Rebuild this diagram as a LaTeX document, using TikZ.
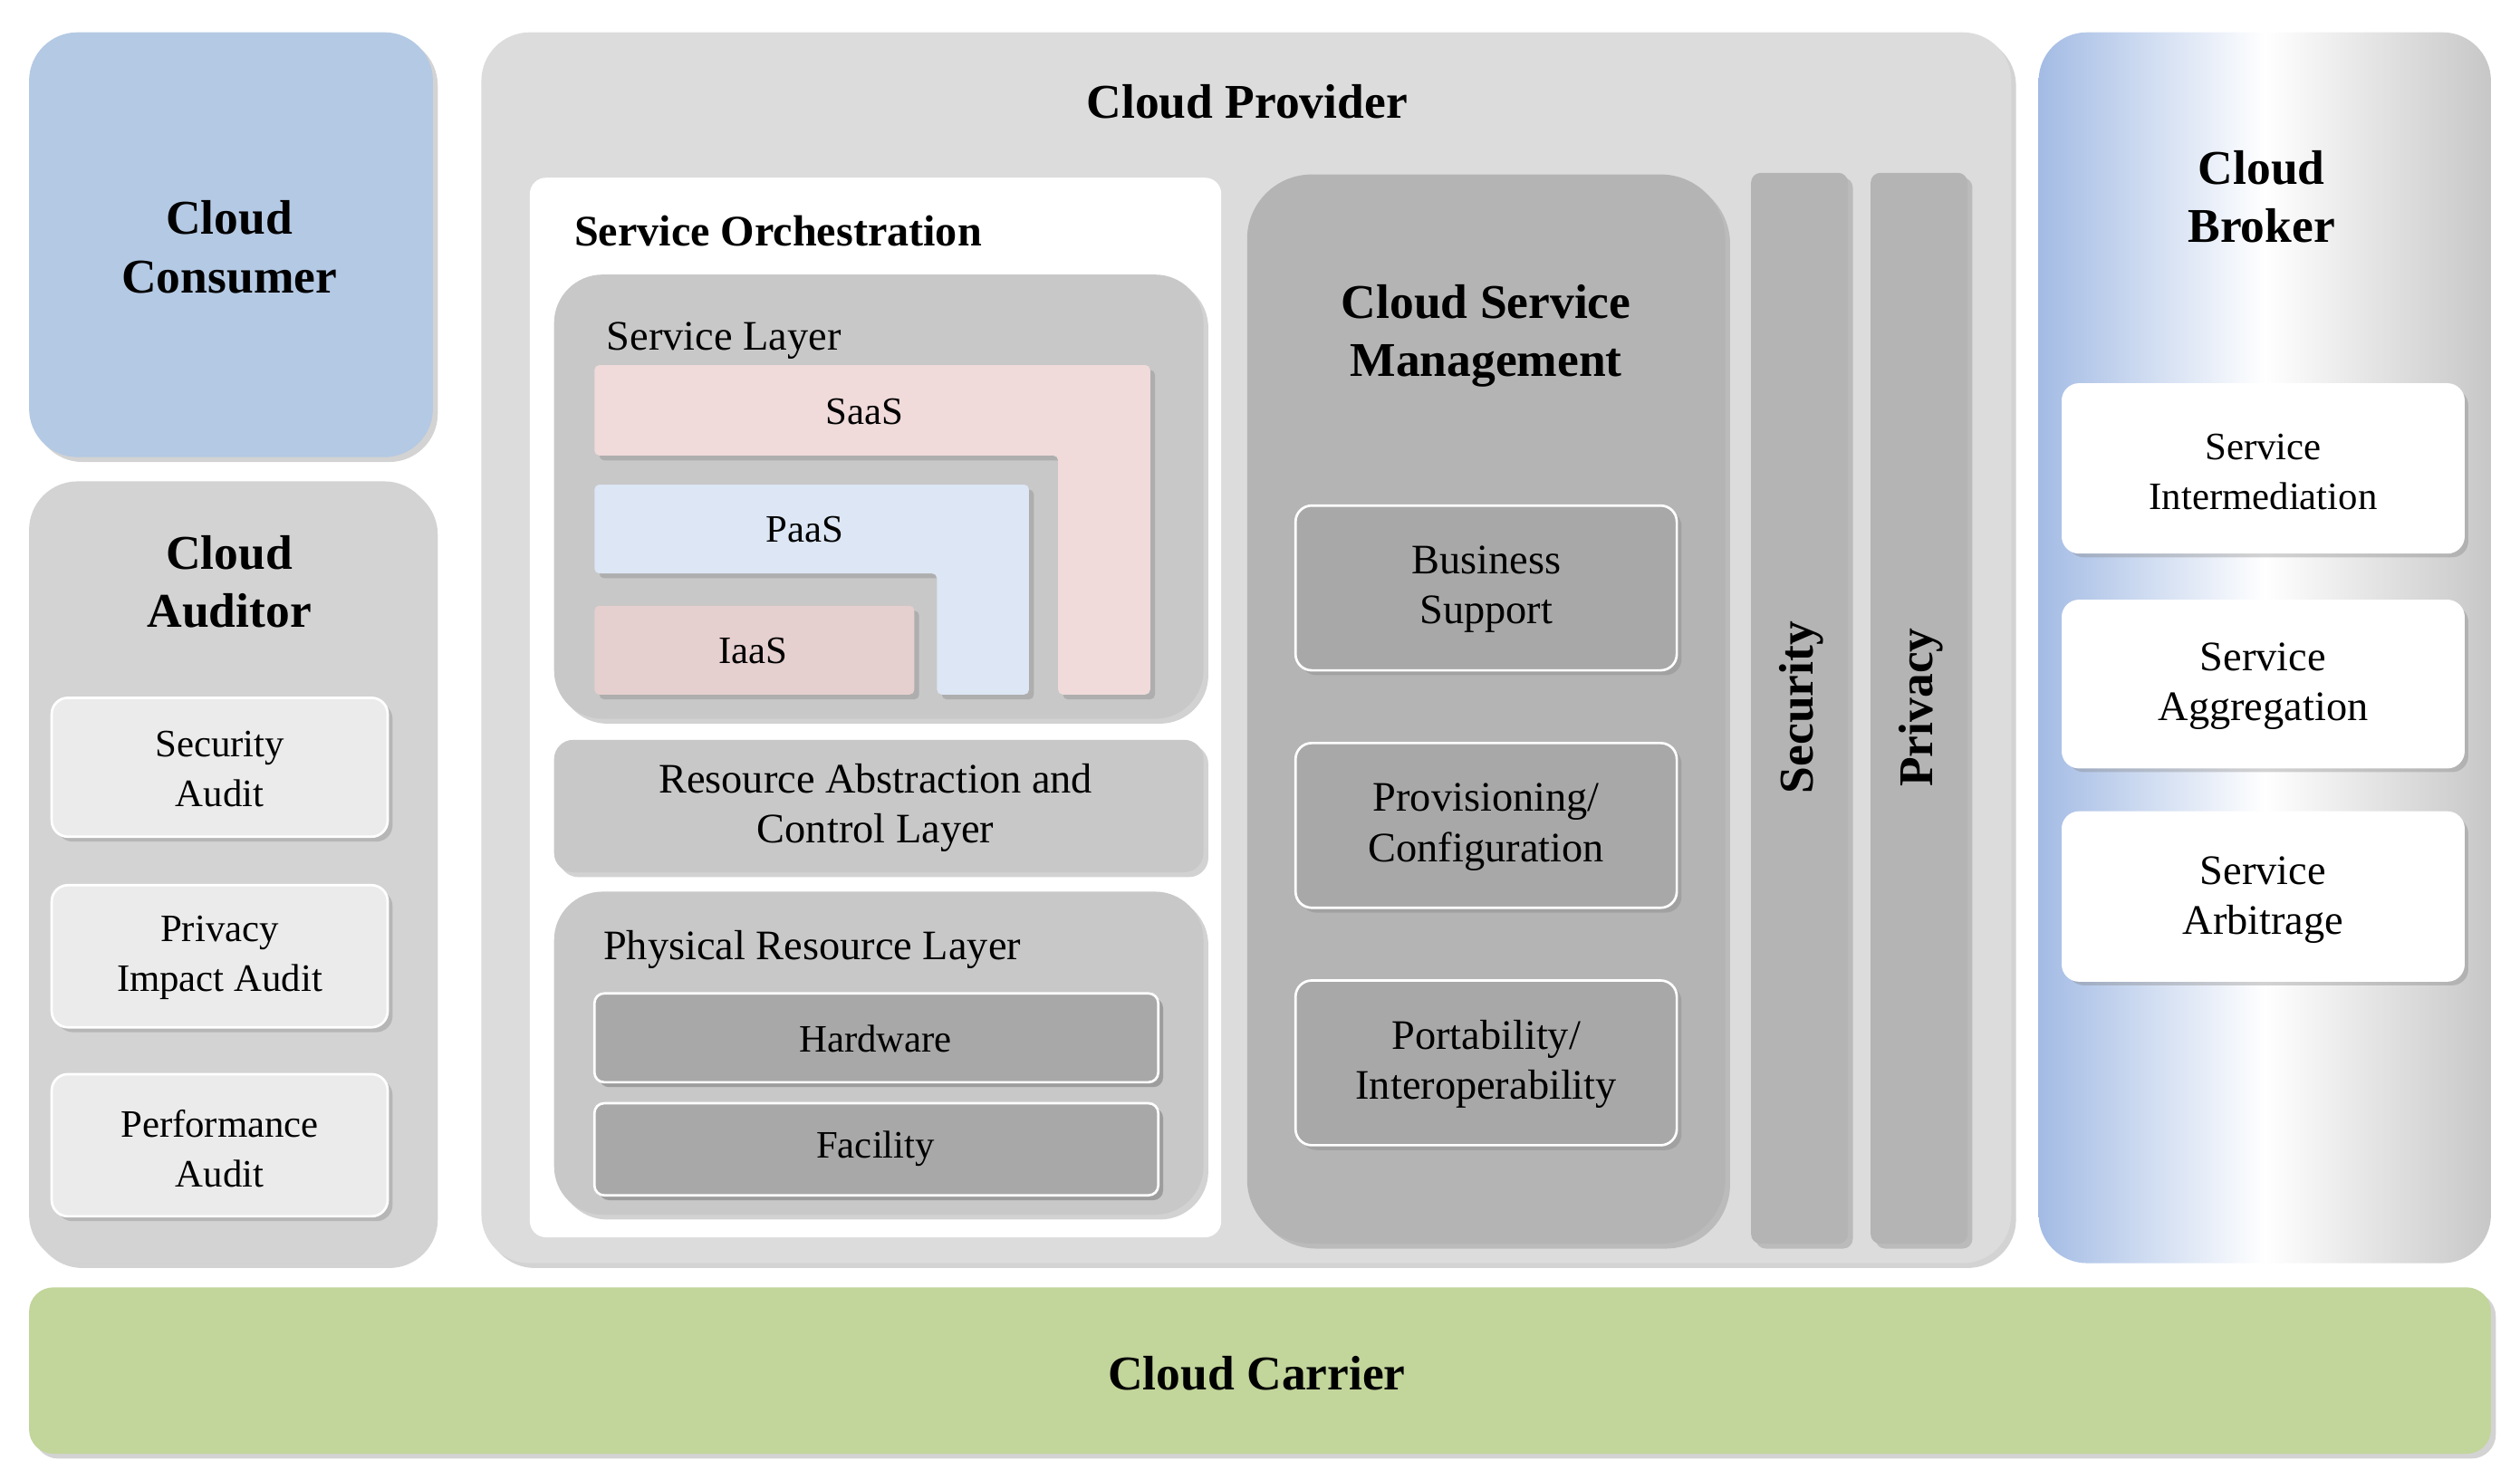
\documentclass[tikz,border=0pt]{standalone}
\usepackage{fontspec}
\setmainfont{Liberation Serif}
\usetikzlibrary{shadows}
\definecolor{cblue}{HTML}{B4C9E3}
\definecolor{bblue}{HTML}{A3BBE4}
\definecolor{cgray}{HTML}{D3D3D3}
\definecolor{pgray}{HTML}{DCDCDC}
\definecolor{lgray}{HTML}{C8C8C8}
\definecolor{mgray}{HTML}{B4B4B4}
\definecolor{dgray}{HTML}{A8A8A8}
\definecolor{saas}{HTML}{F0DADA}
\definecolor{paas}{HTML}{DCE6F4}
\definecolor{iaas}{HTML}{E6CFCF}
\definecolor{carrier}{HTML}{C2D59B}
\begin{document}
\begin{tikzpicture}[x=1pt,y=-1pt,
  box/.style={rounded corners=#1,drop shadow={shadow xshift=3pt,shadow yshift=-3pt,opacity=.35}},
  big/.style={font=\fontsize{30}{36}\selectfont\bfseries,align=center},
  mid/.style={font=\fontsize{26}{31}\selectfont,align=center},
  sml/.style={font=\fontsize{24}{31}\selectfont,align=center},
  sub/.style={box=10,draw=white,line width=1.5pt}]
\useasboundingbox (0,0) rectangle (1560,916);
% consumer
\draw[box=30,fill=cblue,draw=none] (18,20) rectangle (268,283);
\node[big] (cons) at (142,153) {Cloud\\Consumer};
% auditor
\draw[box=30,fill=cgray,draw=none] (18,298) rectangle (268,782);
\node[big] (aud) at (142,360) {Cloud\\Auditor};
\draw[sub,fill=black!8] (32,432) rectangle (240,518);
\node[sml] (sa) at (136,476) {Security\\Audit};
\draw[sub,fill=black!8] (32,548) rectangle (240,636);
\node[sml] (pa) at (136,593) {Privacy\\Impact Audit};
\draw[sub,fill=black!8] (32,665) rectangle (240,753);
\node[sml] (pfa) at (136,711) {Performance\\Audit};
% provider
\draw[box=30,fill=pgray,draw=none] (298,20) rectangle (1245,782);
\node[big] (prov) at (772,63) {Cloud Provider};
\draw[rounded corners=10,fill=white,draw=none] (328,110) rectangle (756,766);
\node[font=\fontsize{27}{32}\selectfont\bfseries,anchor=west] (so) at (352,143) {Service Orchestration};
% service layer
\draw[box=30,fill=lgray,draw=none] (343,170) rectangle (745,445);
\node[mid,anchor=west] (sl) at (372,211) {Service Layer};
\draw[box=3,fill=saas,draw=none] (368,226) -- (712,226) -- (712,430) -- (655,430) -- (655,282) -- (368,282) -- cycle;
\node[sml] (saasn) at (535,255) {SaaS};
\draw[box=3,fill=paas,draw=none] (368,300) -- (637,300) -- (637,430) -- (580,430) -- (580,355) -- (368,355) -- cycle;
\node[sml] (paasn) at (498,328) {PaaS};
\draw[box=3,fill=iaas,draw=none] (368,375) rectangle (566,430);
\node[sml] (iaasn) at (466,403) {IaaS};
% resource abstraction
\draw[box=12,fill=lgray,draw=none] (343,458) rectangle (745,540);
\node[mid] (ra) at (542,500) {Resource Abstraction and\\Control Layer};
% physical
\draw[box=30,fill=lgray,draw=none] (343,552) rectangle (745,752);
\node[mid,anchor=west] (pr) at (370,588) {Physical Resource Layer};
\draw[sub,box=6,fill=dgray] (368,615) rectangle (717,670);
\node[sml] (hw) at (542,643) {Hardware};
\draw[sub,box=6,fill=dgray] (368,683) rectangle (717,740);
\node[sml] (fac) at (542,711) {Facility};
% management
\draw[box=40,fill=mgray,draw=none] (772,108) rectangle (1068,770);
\node[big] (csm) at (920,208) {Cloud Service\\Management};
\draw[sub,fill=dgray] (802,313) rectangle (1038,415);
\node[mid] (bs) at (920,365) {Business\\Support};
\draw[sub,fill=dgray] (802,460) rectangle (1038,562);
\node[mid] (pc) at (920,512) {Provisioning/\\Configuration};
\draw[sub,fill=dgray] (802,607) rectangle (1038,709);
\node[mid] (po) at (920,659) {Portability/\\Interoperability};
% security / privacy
\draw[box=6,fill=mgray,draw=none] (1084,107) rectangle (1144,770);
\node[big,rotate=90] (sec) at (1115,438) {Security};
\draw[box=6,fill=mgray,draw=none] (1158,107) rectangle (1218,770);
\node[big,rotate=90] (pri) at (1189,438) {Privacy};
% broker
\shade[rounded corners=30,left color=bblue,right color=black!22,middle color=white] (1262,20) rectangle (1542,782);
\node[big] (bro) at (1400,122) {Cloud\\Broker};
\draw[sub,fill=white] (1277,238) rectangle (1525,342);
\node[sml] (si) at (1401,292) {Service\\Intermediation};
\draw[sub,fill=white] (1277,372) rectangle (1525,475);
\node[mid] (sag) at (1401,425) {Service\\Aggregation};
\draw[sub,fill=white] (1277,503) rectangle (1525,607);
\node[mid] (sar) at (1401,557) {Service\\Arbitrage};
% carrier
\draw[box=15,fill=carrier,draw=none] (18,797) rectangle (1542,900);
\node[big] (car) at (778,850) {Cloud Carrier};
\end{tikzpicture}
\end{document}
